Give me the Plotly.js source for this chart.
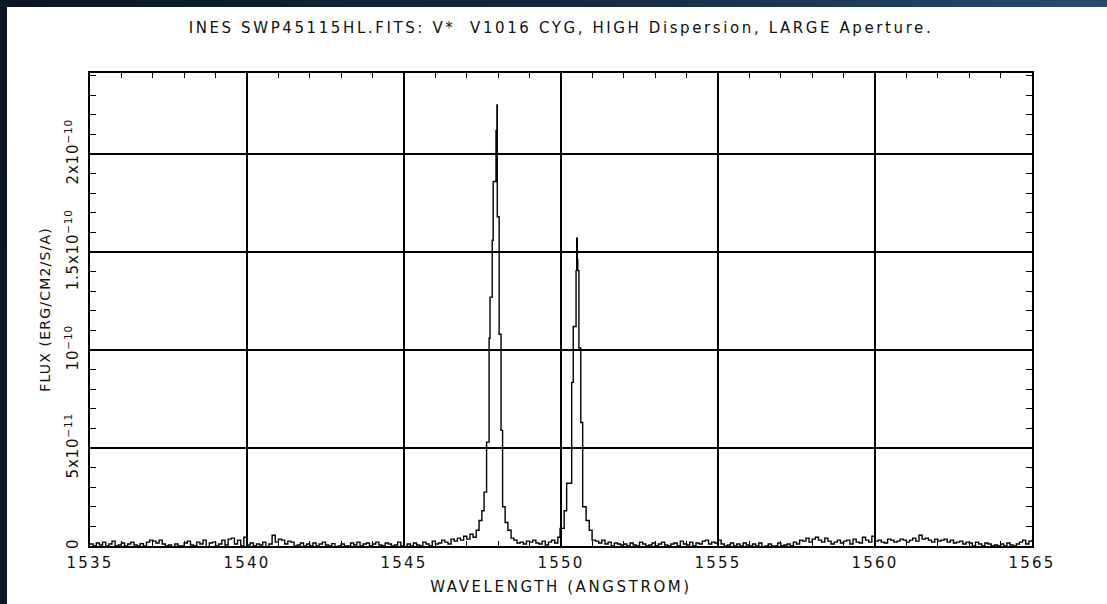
<!DOCTYPE html>
<html>
<head>
<meta charset="utf-8">
<script src="https://cdn.plot.ly/plotly-3.0.1.min.js"></script>
<style>
  html, body { margin: 0; padding: 0; width: 1107px; height: 604px; overflow: hidden; }
  body { background: linear-gradient(100deg, #0a1622 0%, #13283d 45%, #2c5277 100%); }
  #chart { position: absolute; left: 7px; top: 7px; width: 1100px; height: 597px; background: #fff; }
  #chart .gtitle { letter-spacing: 2.6px; }
  #chart .xtitle { letter-spacing: 2.6px; }
  #chart .ytitle { letter-spacing: 1.2px; }
  #chart .xtick text { letter-spacing: 2.2px; }
  #chart .ytick text { letter-spacing: 0.8px; }
</style>
</head>
<body>
<div id="chart"></div>
<script>
// IUE high-dispersion spectrum around the C IV doublet (step plot of the extracted flux).
// Wavelength in Angstrom; flux in units of 1e-11 erg/cm2/s/A.
const wavelength = [
  1535.0,1535.1,1535.2,1535.3,1535.4,1535.5,1535.6,1535.7,1535.8,1535.9,
  1536.0,1536.1,1536.2,1536.3,1536.4,1536.5,1536.6,1536.7,1536.8,1536.9,
  1537.0,1537.1,1537.2,1537.3,1537.4,1537.5,1537.6,1537.7,1537.8,1537.9,
  1538.0,1538.1,1538.2,1538.3,1538.4,1538.5,1538.6,1538.7,1538.8,1538.9,
  1539.0,1539.1,1539.2,1539.3,1539.4,1539.5,1539.6,1539.7,1539.8,1539.9,
  1540.0,1540.1,1540.2,1540.3,1540.4,1540.5,1540.6,1540.7,1540.8,1540.9,
  1541.0,1541.1,1541.2,1541.3,1541.4,1541.5,1541.6,1541.7,1541.8,1541.9,
  1542.0,1542.1,1542.2,1542.3,1542.4,1542.5,1542.6,1542.7,1542.8,1542.9,
  1543.0,1543.1,1543.2,1543.3,1543.4,1543.5,1543.6,1543.7,1543.8,1543.9,
  1544.0,1544.1,1544.2,1544.3,1544.4,1544.5,1544.6,1544.7,1544.8,1544.9,
  1545.0,1545.1,1545.2,1545.3,1545.4,1545.5,1545.6,1545.7,1545.8,1545.9,
  1546.0,1546.1,1546.2,1546.3,1546.4,1546.5,1546.6,1546.7,1546.8,1546.9,
  1547.0,1547.1,1547.2,
  // C IV 1548 line
  1547.30,1547.39,1547.48,1547.55,1547.63,1547.71,1547.74,1547.81,1547.84,
  1547.93,1547.96,1547.97,1548.03,1548.09,1548.14,1548.22,1548.31,1548.41,
  1548.5,1548.6,1548.7,1548.8,1548.9,
  1549.0,1549.1,1549.2,1549.3,1549.4,1549.5,1549.6,1549.7,1549.8,1549.9,
  // C IV 1550 line
  1549.97,1550.10,1550.18,1550.34,1550.39,1550.48,1550.50,1550.52,
  1550.535,1550.57,1550.63,1550.69,1550.80,1550.90,1550.99,
  1551.1,1551.2,1551.3,1551.4,1551.5,1551.6,1551.7,1551.8,1551.9,
  1552.0,1552.1,1552.2,1552.3,1552.4,1552.5,1552.6,1552.7,1552.8,1552.9,
  1553.0,1553.1,1553.2,1553.3,1553.4,1553.5,1553.6,1553.7,1553.8,1553.9,
  1554.0,1554.1,1554.2,1554.3,1554.4,1554.5,1554.6,1554.7,1554.8,1554.9,
  1555.0,1555.1,1555.2,1555.3,1555.4,1555.5,1555.6,1555.7,1555.8,1555.9,
  1556.0,1556.1,1556.2,1556.3,1556.4,1556.5,1556.6,1556.7,1556.8,1556.9,
  1557.0,1557.1,1557.2,1557.3,1557.4,1557.5,1557.6,1557.7,1557.8,1557.9,
  1558.0,1558.1,1558.2,1558.3,1558.4,1558.5,1558.6,1558.7,1558.8,1558.9,
  1559.0,1559.1,1559.2,1559.3,1559.4,1559.5,1559.6,1559.7,1559.8,1559.9,
  1560.0,1560.1,1560.2,1560.3,1560.4,1560.5,1560.6,1560.7,1560.8,1560.9,
  1561.0,1561.1,1561.2,1561.3,1561.4,1561.5,1561.6,1561.7,1561.8,1561.9,
  1562.0,1562.1,1562.2,1562.3,1562.4,1562.5,1562.6,1562.7,1562.8,1562.9,
  1563.0,1563.1,1563.2,1563.3,1563.4,1563.5,1563.6,1563.7,1563.8,1563.9,
  1564.0,1564.1,1564.2,1564.3,1564.4,1564.5,1564.6,1564.7,1564.8,1564.9,
  1565.0
];

const fluxE11 = [
  0.10,0.00,0.15,0.05,0.20,0.00,0.10,0.25,0.00,0.05,
  0.15,0.00,0.10,0.20,0.05,0.00,0.12,0.00,0.20,0.30,
  0.25,0.15,0.30,0.10,0.00,0.05,-0.10,0.10,0.00,0.00,
  0.15,0.25,0.05,0.00,0.20,0.10,0.30,-0.05,0.15,0.20,
  0.00,0.10,0.30,0.05,0.35,0.40,0.10,0.30,0.00,0.45,
  0.05,0.15,0.00,0.10,0.05,0.20,-0.05,0.10,0.55,0.20,
  0.35,0.30,0.10,0.25,0.20,0.00,0.05,0.15,0.00,0.10,
  0.00,0.15,0.00,0.10,0.20,0.05,0.00,0.12,-0.10,0.00,
  0.10,0.00,0.00,0.15,0.05,0.20,0.00,0.10,0.15,0.00,
  0.10,0.20,0.05,0.00,0.15,0.10,0.00,0.05,0.20,0.00,
  -0.10,0.10,0.00,0.15,0.05,0.00,0.20,0.10,0.00,0.25,
  0.10,0.15,0.30,0.20,0.10,0.35,0.25,0.40,0.30,0.50,
  0.35,0.60,0.45,
  0.80,1.30,1.80,2.75,5.30,10.6,12.7,15.6,18.6,
  21.2,22.5,16.8,10.8,5.90,2.00,1.20,0.80,0.40,
  0.30,0.15,0.20,0.10,0.25,
  0.20,0.30,0.15,0.10,0.25,0.05,0.20,0.30,0.15,0.45,
  0.90,1.80,3.20,8.35,11.2,14.05,15.7,14.6,
  14.05,10.1,6.30,2.00,1.30,0.80,0.30,
  0.25,0.15,0.30,0.10,0.20,0.00,0.15,0.10,0.05,
  0.10,0.00,0.15,0.05,0.00,0.20,0.10,0.00,0.05,0.15,
  0.00,0.10,0.20,0.05,0.00,0.10,0.15,0.00,0.25,0.10,
  0.05,0.20,0.00,0.15,0.10,0.25,0.30,0.10,0.20,0.15,
  0.30,0.10,0.00,0.05,0.15,0.00,0.10,0.00,0.15,0.05,
  0.00,0.10,0.00,0.15,-0.05,0.00,0.10,0.00,0.00,0.15,
  0.00,0.05,0.10,0.00,0.20,0.10,0.30,0.25,0.40,0.20,
  0.35,0.45,0.30,0.20,0.40,0.25,0.10,0.20,0.30,0.15,
  0.25,0.30,0.10,0.35,0.20,0.15,0.45,0.30,0.20,0.50,
  0.25,0.30,0.20,0.15,0.35,0.30,0.20,0.25,0.35,0.30,
  0.20,0.30,0.40,0.25,0.55,0.35,0.40,0.30,0.20,0.35,
  0.25,0.30,0.35,0.20,0.30,0.15,0.20,0.25,0.10,0.20,
  0.15,0.00,0.20,0.10,0.00,0.15,0.10,0.00,0.05,0.00,
  0.10,0.00,0.15,0.05,0.00,0.10,0.20,0.30,0.10,0.25,
  0.30
];

const xTickValues = [1535, 1540, 1545, 1550, 1555, 1560, 1565];
const yTickValues = [0, 5, 10, 15, 20];
const yTickLabels = ['0', '5x10<sup>−11</sup>', '10<sup>−10</sup>', '1.5x10<sup>−10</sup>', '2x10<sup>−10</sup>'];

const ink = '#111111';
const labelFont = { family: 'DejaVu Sans, Liberation Sans, sans-serif', size: 15, color: ink };

const trace = {
  type: 'scatter',
  mode: 'lines',
  x: wavelength,
  y: fluxE11,
  line: { color: '#000', width: 1.4, shape: 'hv' },
  hoverinfo: 'x+y'
};

const layout = {
  width: 1100,
  height: 597,
  margin: { l: 83, r: 75, t: 66, b: 58 },
  paper_bgcolor: '#ffffff',
  plot_bgcolor: '#ffffff',
  showlegend: false,
  title: {
    text: 'INES SWP45115HL.FITS: V*  V1016 CYG, HIGH Dispersion, LARGE Aperture.',
    font: { family: 'DejaVu Sans, sans-serif', size: 15, color: ink },
    xref: 'paper', x: 0.5, xanchor: 'center',
    yref: 'container', y: 0.965, yanchor: 'middle'
  },
  xaxis: {
    range: [1535, 1565],
    tickmode: 'array',
    tickvals: xTickValues,
    ticktext: xTickValues.map(String),
    ticks: 'inside', ticklen: 7, tickwidth: 1.3, tickcolor: '#000',
    showgrid: true, gridcolor: '#000', gridwidth: 1.6,
    showline: true, linecolor: '#000', linewidth: 1.6, mirror: 'ticks',
    zeroline: false,
    minor: { tick0: 1535, dtick: 1, ticks: 'inside', ticklen: 5, tickwidth: 1.2, tickcolor: '#000', showgrid: false },
    tickfont: labelFont,
    ticklabelstandoff: 2,
    title: {
      text: 'WAVELENGTH (ANGSTROM)',
      font: { family: 'DejaVu Sans, sans-serif', size: 15, color: ink },
      standoff: 11
    }
  },
  yaxis: {
    range: [0, 24.133],
    tickmode: 'array',
    tickvals: yTickValues,
    ticktext: yTickLabels,
    tickangle: -90,
    ticks: 'inside', ticklen: 7, tickwidth: 1.3, tickcolor: '#000',
    showgrid: true, gridcolor: '#000', gridwidth: 1.6,
    showline: true, linecolor: '#000', linewidth: 1.6, mirror: 'ticks',
    zeroline: false,
    minor: { tick0: 0, dtick: 1, ticks: 'inside', ticklen: 6, tickwidth: 1.2, tickcolor: '#000', showgrid: false },
    tickfont: { family: 'DejaVu Sans, sans-serif', size: 15, color: ink },
    ticklabelstandoff: 4,
    title: {
      text: 'FLUX (ERG/CM2/S/A)',
      font: { family: 'DejaVu Sans, sans-serif', size: 14, color: ink },
      standoff: 8
    }
  }
};

Plotly.newPlot('chart', [trace], layout, { displayModeBar: false, staticPlot: true });
</script>
</body>
</html>
